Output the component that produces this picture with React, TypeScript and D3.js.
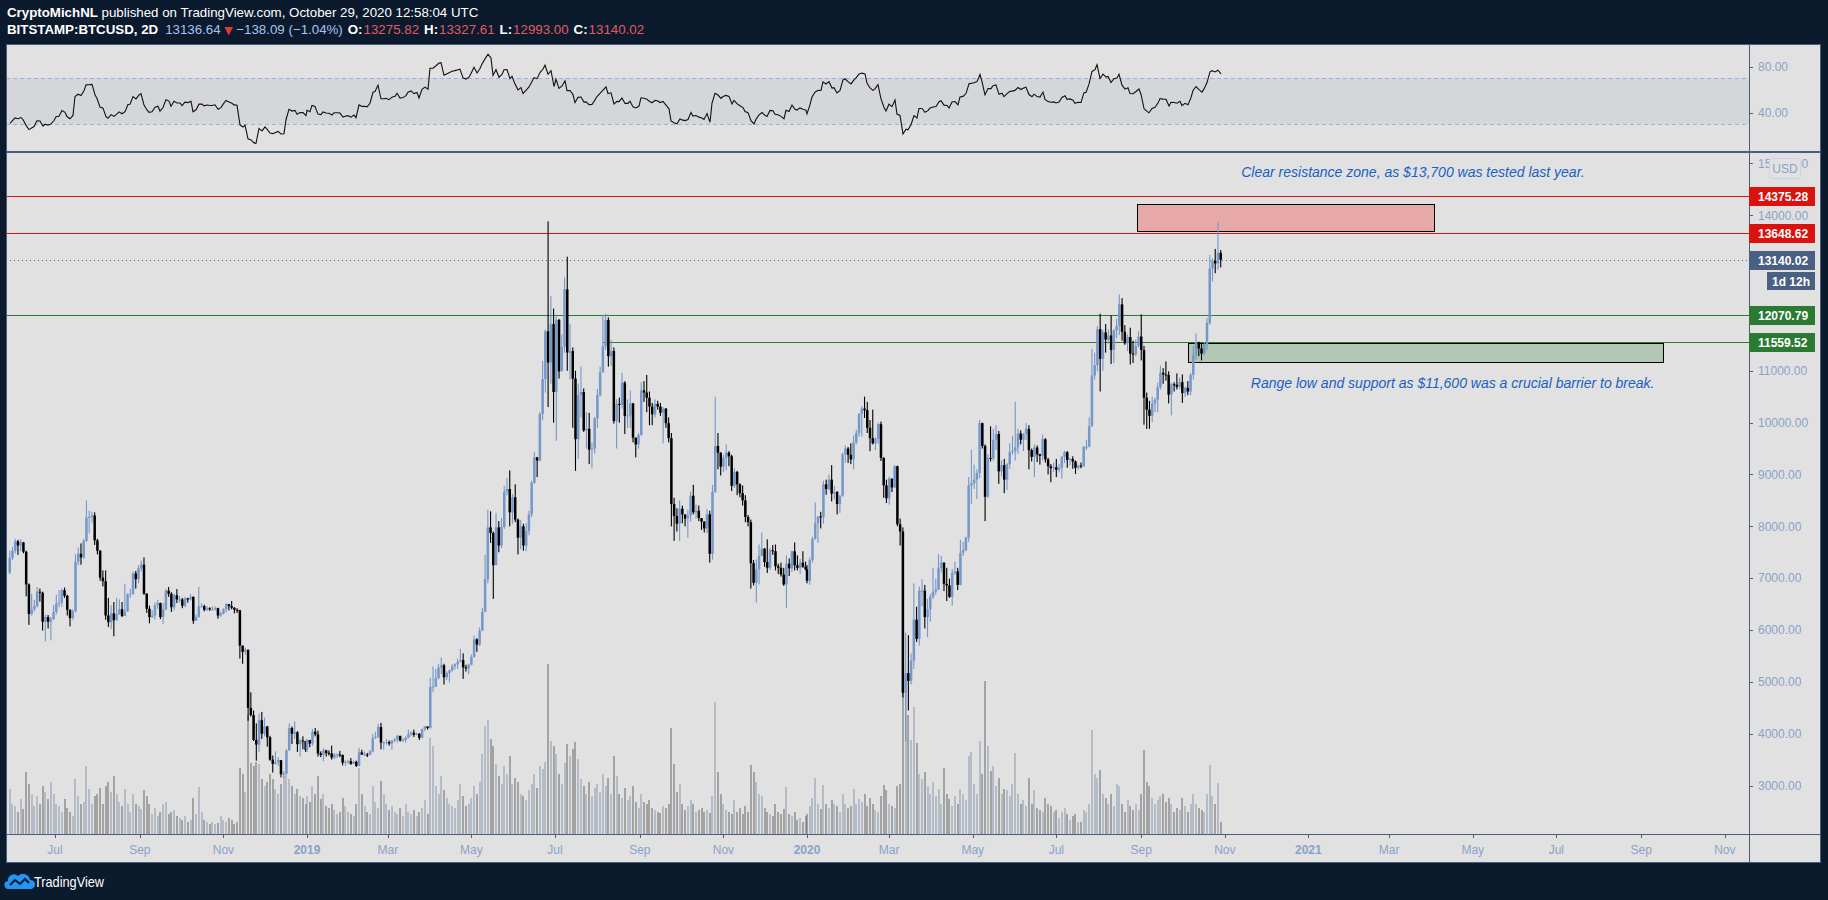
import * as React from 'react';
import {useEffect, useRef} from 'react';
import * as d3 from 'd3';

const width = 1828;
const height = 900;

// 2D bars before the visible range (close only), used to warm up the RSI
const warmupCloses = [9240, 9740, 9700, 9380, 9320, 8460, 8690, 8480, 8060, 8230, 8510, 7530, 7470, 7110];

// [high, low, close] per 2D bar; a bar opens at the previous close.
// Bars start on May 29 2018 and restart on Jan 1 of each year.
const bars2018 = [
  [7530, 7080, 7390], [7600, 7350, 7530], [7760, 7480, 7710], [7740, 7450, 7630], [7750, 7520, 7690], [7700, 7480, 7510], [7530, 6650, 6880], [6900, 6100, 6310], [6700, 6280, 6400], [6580, 6360, 6460],
  [6830, 6440, 6740], [6800, 6550, 6720], [6740, 5990, 6160], [6300, 5780, 6250], [6290, 6030, 6160], [6250, 5800, 6210], [6480, 6200, 6350], [6680, 6300, 6510], [6770, 6440, 6530], [6800, 6450, 6770],
  [6820, 6620, 6660], [6680, 6280, 6390], [6400, 6070, 6230], [6400, 6200, 6360], [7460, 6340, 7320], [7590, 7250, 7470], [7670, 7260, 7400], [7760, 7370, 7720], [8500, 7700, 8170], [8300, 7860, 8180],
  [8280, 8070, 8210], [8270, 7640, 7730], [7760, 7460, 7530], [7540, 6950, 7010], [7150, 6840, 6940], [7150, 6200, 6280], [6620, 6060, 6150], [6480, 6020, 6320], [6540, 5880, 6190], [6620, 6180, 6310],
  [6590, 6290, 6400], [6540, 6250, 6270], [6890, 6270, 6360], [6710, 6350, 6690], [6800, 6620, 6700], [7130, 6680, 7090], [7140, 6800, 6980], [7250, 6900, 7190], [7340, 7130, 7260], [7400, 6680, 6700],
  [6710, 6330, 6410], [6470, 6130, 6250], [6380, 6230, 6280], [6530, 6200, 6480], [6580, 6410, 6520], [6530, 6210, 6250], [6520, 6120, 6400], [6790, 6380, 6760], [6830, 6640, 6700], [6730, 6350, 6440],
  [6700, 6380, 6670], [6790, 6520, 6590], [6660, 6530, 6590], [6620, 6420, 6470], [6640, 6440, 6610], [6620, 6530, 6590], [6690, 6570, 6640], [6650, 6120, 6180], [6300, 6180, 6250], [6830, 6240, 6460],
  [6520, 6430, 6460], [6490, 6360, 6390], [6460, 6370, 6420], [6440, 6370, 6400], [6460, 6380, 6400], [6450, 6380, 6420], [6430, 6220, 6280], [6350, 6250, 6320], [6420, 6300, 6400], [6520, 6340, 6500],
  [6500, 6380, 6460], [6560, 6400, 6430], [6440, 6320, 6390], [6420, 6330, 6380], [6390, 5450, 5700], [5680, 5350, 5580], [5660, 5520, 5620], [5620, 4250, 4500], [4800, 4330, 4360], [4450, 3860, 3880],
  [4200, 3480, 3790], [4390, 3650, 4260], [4420, 3900, 4000], [4310, 3950, 4140], [4150, 3750, 3930], [3960, 3480, 3500], [3580, 3250, 3420], [3660, 3400, 3450], [3550, 3380, 3490], [3490, 3160, 3220],
  [3280, 3150, 3230], [3700, 3220, 3680], [4200, 3670, 4110], [4140, 3800, 4000], [4240, 3900, 4030], [4050, 3650, 3800], [3900, 3560, 3870], [3950, 3700, 3860], [3830, 3650, 3690]
];

const bars2019 = [
  [3900, 3650, 3880], [3880, 3740, 3810], [4090, 3770, 4040], [4110, 3950, 3990], [4060, 3560, 3620], [3660, 3550, 3590], [3720, 3470, 3680], [3690, 3560, 3630], [3680, 3580, 3620], [3770, 3500, 3540],
  [3630, 3510, 3600], [3620, 3530, 3600], [3670, 3550, 3590], [3600, 3390, 3440], [3490, 3380, 3460], [3500, 3420, 3470], [3530, 3400, 3420], [3480, 3420, 3460], [3480, 3360, 3380], [3730, 3370, 3640],
  [3690, 3590, 3600], [3660, 3570, 3600], [3630, 3550, 3590], [3690, 3590, 3660], [4000, 3640, 3920], [4040, 3900, 3940], [4190, 3920, 4130], [4210, 3700, 3830], [3850, 3690, 3830], [3900, 3790, 3840],
  [3870, 3770, 3810], [3880, 3690, 3870], [3920, 3840, 3890], [3980, 3830, 3960], [3960, 3850, 3870], [3920, 3840, 3880], [3950, 3830, 3920], [4080, 3910, 3990], [4050, 3950, 4020], [4080, 3940, 3980],
  [4020, 3970, 4000], [4010, 3880, 3920], [4100, 3910, 4090], [4150, 4050, 4140], [4140, 4080, 4110], [5080, 4100, 4900], [5300, 4800, 4910], [5250, 4900, 5070], [5350, 5050, 5280], [5470, 5150, 5320],
  [5350, 4950, 5090], [5200, 5040, 5170], [5240, 4990, 5220], [5340, 5200, 5300], [5360, 5240, 5340], [5450, 5250, 5390], [5640, 5380, 5420], [5550, 5060, 5280], [5330, 5200, 5260], [5350, 5150, 5330],
  [5530, 5320, 5480], [5890, 5470, 5820], [5840, 5580, 5720], [6050, 5690, 5990], [6430, 5980, 6350], [7450, 6350, 6980], [8320, 6900, 7980], [8290, 7680, 7870], [7900, 6600, 7250], [8260, 7250, 7980],
  [8100, 7500, 7630], [8160, 7580, 7990], [8780, 7950, 8670], [8930, 8600, 8720], [9080, 8000, 8270], [8620, 8050, 8560], [8810, 8080, 8130], [8150, 7460, 7780], [8120, 7560, 8000], [8050, 7530, 7630],
  [8060, 7520, 7910], [8300, 7830, 8230], [8880, 8180, 8840], [9430, 8820, 9330], [9340, 8950, 9270], [10200, 9260, 10170], [11190, 10050, 10840], [11800, 10580, 11760], [13880, 10300, 11160], [12440, 10750, 11900],
  [12200, 10000, 10590], [12050, 9650, 11980], [12000, 10850, 10990], [11700, 10990, 11460], [12800, 11350, 12570], [13200, 11000, 11350], [11900, 10830, 11380], [11450, 9900, 10850], [11000, 9070, 9680], [10750, 9300, 10530],
  [11080, 10100, 10590], [10660, 9820, 9850], [10200, 9500, 9880], [10190, 9200, 9480], [9620, 9120, 9500], [10110, 9400, 10080], [10650, 9900, 10530], [11080, 10500, 10970], [12080, 11000, 11470], [12100, 11400, 11980],
  [12030, 11080, 11280], [11600, 11100, 11380], [11450, 9980, 10030], [10450, 9500, 10360], [10480, 10000, 10340], [10960, 10270, 10770], [10800, 9780, 10130], [10450, 9900, 10140], [10620, 9900, 10370], [10380, 9620, 9710],
  [9710, 9330, 9580], [9800, 9500, 9760], [10780, 9750, 10620], [10800, 10400, 10580], [10920, 10200, 10480], [10600, 9950, 10310], [10380, 9950, 10160], [10450, 10100, 10360], [10420, 10250, 10310], [10380, 10130, 10190],
  [10300, 9600, 10270], [10280, 9900, 9990], [10100, 9620, 9700], [9800, 8000, 8430], [8550, 7720, 8200], [8350, 7900, 8050], [8500, 7720, 8340], [8400, 8060, 8230], [8230, 8000, 8150], [8320, 7780, 8210],
  [8670, 8090, 8590], [8800, 8230, 8270], [8420, 8150, 8300], [8400, 8100, 8160], [8160, 7930, 8090], [8100, 7880, 7960], [8330, 7870, 8230], [8300, 7300, 7470], [8800, 7360, 8660], [10500, 8650, 9550],
  [9800, 9100, 9420], [9430, 8980, 9150], [9380, 9050, 9320], [9580, 9080, 9420], [9450, 9160, 9350], [9380, 8680, 8780], [9120, 8740, 9050], [9070, 8600, 8810], [8830, 8560, 8640], [8790, 8400, 8500],
  [8600, 8080, 8180], [8220, 8000, 8080], [8130, 6800, 7290], [7350, 6860, 6910], [7360, 6530, 7170], [7650, 6880, 7430], [7880, 7420, 7570], [7580, 7220, 7310], [7750, 7100, 7200], [7580, 7160, 7540],
  [7640, 7450, 7520], [7650, 7150, 7230], [7280, 7080, 7200], [7300, 7030, 7070], [7200, 6850, 6880], [7440, 6430, 7280], [7380, 7040, 7190], [7530, 7120, 7520], [7690, 7150, 7250], [7440, 7150, 7200],
  [7370, 7080, 7300], [7520, 7200, 7220], [7320, 7150, 7170]
];

const bars2020 = [
  [7250, 6900, 6950], [7400, 6870, 7350], [7800, 7300, 7760], [8460, 7740, 8060], [8200, 7680, 8190], [8280, 7960, 8180], [8880, 8050, 8810], [8900, 8610, 8720], [9000, 8700, 8900], [9180, 8480, 8630],
  [8780, 8520, 8660], [8680, 8230, 8430], [8600, 8260, 8590], [9420, 8570, 9390], [9560, 9230, 9500], [9530, 9220, 9380], [9600, 9200, 9290], [9750, 9100, 9620], [9860, 9580, 9800], [10180, 9730, 10170],
  [10320, 9730, 10270], [10500, 10090, 10240], [10400, 9800, 9900], [10050, 9450, 9700], [10250, 9580, 9600], [9720, 9470, 9690], [10000, 9590, 9970], [10020, 9260, 9320], [9330, 8550, 8790], [8900, 8450, 8540],
  [8960, 8420, 8920], [8920, 8660, 8750], [9180, 8740, 9160], [9170, 8000, 8040], [8150, 7630, 7900], [7980, 4700, 4790], [5950, 3850, 5170], [5900, 4450, 5020], [5550, 4950, 5410], [6900, 5250, 6200],
  [6450, 5770, 5830], [6840, 5700, 6760], [6980, 6460, 6760], [6870, 6030, 6250], [6600, 5860, 6400], [6700, 6160, 6640], [7200, 6600, 6740], [6990, 6680, 6780], [7460, 6770, 7200], [7430, 7110, 7300],
  [7300, 6750, 6890], [7200, 6560, 6860], [6990, 6620, 6640], [7180, 6470, 7100], [7320, 7060, 7130], [7200, 6770, 6870], [7740, 6860, 7490], [7700, 7430, 7540], [7800, 7520, 7780], [8950, 7700, 8790],
  [9480, 8430, 8830], [9190, 8720, 8900], [9100, 8530, 9030], [10050, 8930, 9990], [10000, 9500, 9550], [9580, 8100, 8570], [9390, 8550, 9320], [9930, 9250, 9310], [9880, 9260, 9670], [9950, 9470, 9780],
  [9840, 8820, 9060], [9270, 8960, 9180], [9300, 8640, 8900], [9220, 8700, 9200], [9600, 9110, 9430], [9740, 9380, 9450], [10400, 9270, 9520], [9880, 9400, 9790], [9850, 9580, 9670], [9800, 9450, 9780],
  [9990, 9660, 9880], [9950, 9100, 9470], [9500, 9250, 9340], [9580, 8950, 9520], [9560, 9240, 9390], [9400, 9190, 9360], [9770, 9270, 9680], [9700, 9230, 9290], [9320, 9000, 9160], [9200, 8850, 9120],
  [9230, 9050, 9140], [9300, 8950, 9090], [9200, 9040, 9130], [9360, 8920, 9340], [9460, 9220, 9430], [9450, 9130, 9280], [9320, 9180, 9300], [9350, 9110, 9250], [9270, 9010, 9130], [9190, 9090, 9170],
  [9230, 9120, 9160], [9550, 9150, 9530], [9670, 9470, 9540], [10100, 9520, 9930], [11420, 9920, 10910], [11350, 10830, 11110], [11860, 10990, 11800], [12100, 10600, 11230], [11790, 11000, 11740], [11900, 11350, 11600],
  [11800, 11520, 11680], [12070, 11130, 11400], [11800, 11150, 11780], [12000, 11630, 11860], [12470, 11690, 12280], [12400, 11580, 11750], [11880, 11500, 11530], [11700, 11380, 11650], [11830, 11120, 11330], [11580, 11150, 11320],
  [11600, 11280, 11480], [11760, 11450, 11660], [12090, 11200, 11400], [11480, 9960, 10480], [10580, 9880, 10250], [10420, 9880, 10130], [10500, 10010, 10370], [10480, 10200, 10440], [10770, 10200, 10680], [11100, 10640, 10960],
  [11050, 10750, 10930], [11180, 10810, 10920], [10990, 10370, 10540], [10770, 10140, 10740], [10780, 10600, 10730], [10950, 10640, 10690], [10870, 10650, 10780], [10930, 10380, 10570], [10690, 10500, 10670], [10800, 10530, 10600],
  [10960, 10530, 10920], [11480, 10830, 11300], [11720, 11210, 11550], [11560, 11280, 11430], [11540, 11200, 11330], [11540, 11300, 11510], [12020, 11400, 11920], [13230, 11890, 12970], [13170, 12720, 13120], [13350, 12880, 13070],
  [13860, 12950, 13275.82], [13327.61, 12993, 13140.02]
];

// volume per bar (thousand BTC)
const volumes = [
  45, 30, 28, 22, 35, 25, 62, 50, 40, 28, 38, 30, 48, 42,
  35, 52, 40, 30, 28, 22, 35, 26, 22, 18, 55, 38, 30, 32,
  68, 45, 30, 38, 40, 46, 30, 48, 52, 42, 58, 40, 32, 28,
  45, 30, 22, 40, 30, 28, 25, 44, 38, 30, 20, 26, 18, 22,
  30, 32, 20, 22, 24, 18, 16, 14, 18, 12, 14, 36, 20, 47,
  22, 14, 12, 10, 12, 10, 11, 18, 14, 12, 16, 14, 10, 12,
  66, 60, 42, 119, 71, 68, 72, 70, 55, 48, 52, 60, 55, 45,
  40, 50, 58, 62, 55, 48, 40, 45, 38, 36, 30,
  38, 32, 48, 40, 58, 35, 40, 28, 26, 30, 24, 20, 22, 36, 28,
  22, 20, 18, 30, 66, 40, 28, 22, 20, 48, 32, 26, 53, 40, 30,
  24, 28, 22, 20, 26, 18, 30, 22, 20, 24, 18, 22, 26, 34, 20,
  96, 88, 48, 40, 58, 44, 36, 30, 28, 26, 34, 50, 38, 28, 30,
  36, 48, 40, 52, 80, 108, 114, 95, 88, 70, 58, 50, 68, 60, 78, 50,
  56, 52, 40, 38, 34, 44, 50, 60, 46, 68, 65, 72, 170,
  93, 88, 80, 60, 50, 71, 90, 78, 85, 92, 75, 55, 48, 40, 52, 38, 46,
  50, 42, 60, 48, 56, 40, 78, 58, 40, 36, 46, 34, 38, 48, 32, 26,
  40, 32, 30, 34, 26, 24, 22, 21, 28, 26, 30, 106, 70, 42, 50,
  30, 24, 28, 34, 30, 22, 24, 26, 22, 24, 21, 38, 132, 62, 40,
  30, 24, 22, 20, 34, 22, 26, 20, 28, 22, 69, 62, 52, 40, 38,
  26, 22, 20, 18, 30, 22, 20, 25, 47, 20, 18, 22, 14, 16, 12, 18,
  20, 28, 36, 56, 30, 25, 49, 30, 26, 34, 30, 28, 22, 40, 30, 26,
  28, 45, 30, 35, 32, 40, 28, 36, 30, 24, 22, 38, 49, 44,
  30, 28, 26, 48, 50, 175, 141, 119, 94, 127, 91, 60, 55, 62, 48, 40,
  52, 38, 45, 30, 66, 40, 35, 28, 38, 30, 45, 40, 34, 78, 82,
  50, 40, 93, 60, 153, 88, 63, 68, 48, 56, 40, 45, 44, 38, 50,
  81, 40, 30, 34, 28, 56, 30, 44, 26, 24, 22, 36, 30, 28, 22,
  24, 16, 22, 26, 20, 14, 18, 20, 12, 12, 24, 22, 30, 104, 60, 56,
  64, 40, 36, 30, 40, 28, 50, 48, 30, 22, 34, 28, 24, 30, 24,
  40, 84, 52, 48, 36, 30, 34, 38, 40, 32, 36, 30, 22, 26, 24,
  36, 28, 22, 30, 40, 30, 26, 24, 22, 40, 69, 38, 30, 51, 12
];

// quote shown in the header: last trade, change, change %
const headerQuote = [13136.64, -138.09, -1.04];

const resistanceLevels = [14375.28, 13648.62];
const supportLevels = [12070.79, 11559.52];
const lastPrice = 13140.02;
const resistanceZone = {from: '2020-08-29', to: '2021-04-03', low: 13700, high: 14225};
const supportZone = {from: '2020-10-05', to: '2021-09-17', low: 11170, high: 11540};
const supportLineFrom = '2019-08-05';
const priceTicks = [3000, 4000, 5000, 6000, 7000, 8000, 9000, 10000, 11000, 14000, 15000];
const rsiTicks = [80, 40];
const rsiBands = [70, 30];

const notes = [
  {date: '2020-11-13', price: 14830, text: 'Clear resistance zone, as $13,700 was tested last year.'},
  {date: '2020-11-20', price: 10750, text: 'Range low and support as $11,600 was a crucial barrier to break.'}
];

const font = '"Liberation Sans", Arial, sans-serif';
const narrow = '"Liberation Sans Narrow", "Liberation Sans", Arial, sans-serif';
const upColor = '#7597c9';
const downColor = '#000000';
const axisText = '#8aa2c8';
const frame = '#4b5d7d';
const red = '#d8130f';
const green = '#2b7a33';

const rsi = (closes: number[], n: number) => {
  const out: (number | null)[] = closes.map(() => null);
  let g = 0, l = 0;
  for (let i = 1; i <= n; i++) {
    const d = closes[i] - closes[i - 1];
    if (d > 0) g += d; else l -= d;
  }
  g /= n; l /= n;
  out[n] = 100 - 100 / (1 + g / l);
  for (let i = n + 1; i < closes.length; i++) {
    const d = closes[i] - closes[i - 1];
    g = (g * (n - 1) + Math.max(d, 0)) / n;
    l = (l * (n - 1) + Math.max(-d, 0)) / n;
    out[i] = l === 0 ? 100 : 100 - 100 / (1 + g / l);
  }
  return out;
};

const utc = (s: string) => new Date(s + 'T00:00:00Z');

export default function App() {
  const ref = useRef<SVGSVGElement>(null);

  useEffect(() => {
    const left = 6, right = 1821, top = 44, bottom = 863;
    const axisX = 1749, rsiBottom = 152, timeY = 834;

    const dates: Date[] = [];
    ([[2018, 148, bars2018.length], [2019, 0, bars2019.length], [2020, 0, bars2020.length]] as number[][])
      .forEach(([yr, start, n]) => {
        for (let i = 0; i < n; i++) dates.push(new Date(Date.UTC(yr, 0, 1 + start + 2 * i)));
      });
    let prev = warmupCloses[warmupCloses.length - 1];
    const candles = [...bars2018, ...bars2019, ...bars2020].map(([h, l, c], i) => {
      const o = prev;
      prev = c;
      return {date: dates[i], o, h: Math.max(h, o, c), l: Math.min(l, o, c), c, v: volumes[i] ?? 0};
    });
    const rsiAll = rsi([...warmupCloses, ...candles.map(d => d.c)], 14);
    const rsiVals = candles.map((d, i) => ({date: d.date, v: rsiAll[i + warmupCloses.length]}));

    const x = d3.scaleUtc()
      .domain([new Date(Date.UTC(2019, 0, 1)), new Date(Date.UTC(2020, 0, 1))])
      .range([307, 807]);
    const y = d3.scaleLinear().domain([3000, 14000]).range([785.6, 215.2]);
    const yRsi = d3.scaleLinear().domain([80, 40]).range([66.7, 112.7]);
    const yVol = d3.scaleLinear().domain([0, d3.max(volumes)!]).range([timeY, timeY - 175]);

    const svg = d3.select(ref.current);
    svg.selectAll('*').remove();
    svg.attr('viewBox', [0, 0, width, height].join(' ')).style('font-family', font);

    const defs = svg.append('defs');
    defs.append('clipPath').attr('id', 'clip-main').append('rect')
      .attr('x', left).attr('y', rsiBottom + 1).attr('width', axisX - left).attr('height', timeY - rsiBottom - 1);
    defs.append('clipPath').attr('id', 'clip-rsi').append('rect')
      .attr('x', left).attr('y', top).attr('width', axisX - left).attr('height', rsiBottom - top);

    svg.append('rect').attr('width', width).attr('height', height).attr('fill', '#0c1a2e');
    svg.append('rect').attr('x', left).attr('y', top).attr('width', right - left).attr('height', bottom - top)
      .attr('fill', '#e1e1e1');

    // RSI pane
    const rp = svg.append('g').attr('clip-path', 'url(#clip-rsi)');
    rp.append('rect').attr('x', left).attr('width', axisX - left)
      .attr('y', yRsi(rsiBands[0])).attr('height', yRsi(rsiBands[1]) - yRsi(rsiBands[0]))
      .attr('fill', '#d4d6da');
    rp.selectAll('line.band').data(rsiBands).join('line')
      .attr('x1', left).attr('x2', axisX)
      .attr('y1', d => Math.round(yRsi(d)) + 0.5).attr('y2', d => Math.round(yRsi(d)) + 0.5)
      .attr('stroke', '#94b4dc').attr('stroke-dasharray', '4 3');
    const rsiLine = d3.line<{date: Date, v: number | null}>()
      .defined(d => d.v !== null)
      .x(d => Math.round(x(d.date)))
      .y(d => yRsi(d.v as number));
    rp.append('path').attr('d', rsiLine(rsiVals)).attr('fill', 'none')
      .attr('stroke', '#111').attr('stroke-width', 1.1);

    // main pane
    const mp = svg.append('g').attr('clip-path', 'url(#clip-main)');
    mp.selectAll('rect.vol').data(candles).join('rect')
      .attr('x', d => Math.round(x(d.date)) - 0.5).attr('width', 1)
      .attr('y', d => yVol(d.v)).attr('height', d => timeY - yVol(d.v))
      .attr('fill', d => d.c >= d.o ? '#8797b0' : '#666666');

    const hline = (price: number, x1: number, color: string, dash?: string) =>
      mp.append('line').attr('x1', x1).attr('x2', axisX)
        .attr('y1', Math.round(y(price)) + 0.5).attr('y2', Math.round(y(price)) + 0.5)
        .attr('stroke', color).attr('stroke-dasharray', dash ?? null);
    hline(lastPrice, left, '#666', '1 3');
    resistanceLevels.forEach(p => hline(p, left, red));
    hline(supportLevels[0], left, green);
    hline(supportLevels[1], x(utc(supportLineFrom)), green);

    [[resistanceZone, '#e6a9a8'], [supportZone, '#b4c6b4']].forEach(([z, fill]: any) => {
      mp.append('rect')
        .attr('x', Math.round(x(utc(z.from))) + 0.5).attr('y', Math.round(y(z.high)) + 0.5)
        .attr('width', Math.round(x(utc(z.to)) - x(utc(z.from))))
        .attr('height', Math.round(y(z.low) - y(z.high)))
        .attr('fill', fill).attr('stroke', '#000').attr('stroke-width', 1);
    });

    const cg = mp.append('g');
    cg.selectAll('rect.wick').data(candles).join('rect')
      .attr('x', d => x(d.date) - 0.55).attr('width', 1.1)
      .attr('y', d => y(d.h)).attr('height', d => Math.max(1, y(d.l) - y(d.h)))
      .attr('fill', d => d.c >= d.o ? upColor : downColor);
    cg.selectAll('rect.body').data(candles).join('rect')
      .attr('x', d => x(d.date) - 1.25).attr('width', 2.5)
      .attr('y', d => y(Math.max(d.o, d.c)))
      .attr('height', d => Math.max(1, Math.abs(y(d.o) - y(d.c))))
      .attr('fill', d => d.c >= d.o ? upColor : downColor);

    mp.selectAll('text.note').data(notes).join('text')
      .attr('x', d => x(utc(d.date))).attr('y', d => y(d.price) + 4.5)
      .attr('font-size', 14).attr('font-style', 'italic').attr('fill', '#1a5fc2')
      .text(d => d.text);

    // frame lines
    const fl = svg.append('g').attr('stroke', frame).attr('shape-rendering', 'crispEdges');
    fl.append('rect').attr('x', left + 0.5).attr('y', top + 0.5).attr('width', right - left - 1)
      .attr('height', bottom - top - 1).attr('fill', 'none');
    fl.append('line').attr('x1', left).attr('x2', right).attr('y1', rsiBottom).attr('y2', rsiBottom).attr('stroke-width', 2);
    fl.append('line').attr('x1', axisX + 0.5).attr('x2', axisX + 0.5).attr('y1', top).attr('y2', bottom);
    fl.append('line').attr('x1', left).attr('x2', right).attr('y1', timeY + 0.5).attr('y2', timeY + 0.5);

    // price axis
    const pa = svg.append('g');
    const tickRows = [
      ...priceTicks.map(p => ({yy: y(p), label: d3.format('.2f')(p)})),
      ...rsiTicks.map(v => ({yy: yRsi(v), label: d3.format('.2f')(v)}))
    ];
    pa.selectAll('line').data(tickRows).join('line')
      .attr('x1', axisX).attr('x2', axisX + 4)
      .attr('y1', d => Math.round(d.yy) + 0.5).attr('y2', d => Math.round(d.yy) + 0.5)
      .attr('stroke', frame);
    pa.selectAll('text').data(tickRows).join('text')
      .attr('x', axisX + 9).attr('y', d => d.yy + 4.3)
      .attr('font-size', 12).attr('fill', axisText).text(d => d.label);

    svg.append('rect').attr('x', 1769.5).attr('y', 158.5).attr('width', 31).attr('height', 20).attr('rx', 2)
      .attr('fill', '#e1e1e1').attr('stroke', '#c6d3e6');
    svg.append('text').attr('x', 1785).attr('y', 172.5).attr('text-anchor', 'middle')
      .attr('font-size', 12).attr('fill', axisText).text('USD');

    const tags = [
      ...resistanceLevels.map(p => ({p, fill: red})),
      {p: lastPrice, fill: '#4a6083'},
      ...supportLevels.map(p => ({p, fill: green}))
    ];
    const tg = svg.append('g');
    tg.selectAll('rect').data(tags).join('rect')
      .attr('x', axisX).attr('y', d => Math.round(y(d.p)) - 9).attr('width', 66).attr('height', 19)
      .attr('fill', d => d.fill);
    tg.selectAll('text').data(tags).join('text')
      .attr('x', axisX + 9).attr('y', d => Math.round(y(d.p)) + 5)
      .attr('font-size', 12).attr('font-weight', 'bold').attr('fill', '#fff')
      .text(d => d3.format('.2f')(d.p));
    const yLast = Math.round(y(lastPrice));
    svg.append('rect').attr('x', 1767).attr('y', yLast + 12).attr('width', 48).attr('height', 18).attr('fill', '#4a6083');
    svg.append('text').attr('x', 1791).attr('y', yLast + 25.5).attr('text-anchor', 'middle')
      .attr('font-size', 12).attr('font-weight', 'bold').attr('fill', '#fff').text('1d 12h');

    // time axis
    const months = d3.utcMonth.every(2)!.range(new Date(Date.UTC(2018, 6, 1)), new Date(Date.UTC(2021, 11, 2)));
    const ta = svg.append('g');
    ta.selectAll('line').data(months).join('line')
      .attr('x1', d => Math.round(x(d)) + 0.5).attr('x2', d => Math.round(x(d)) + 0.5)
      .attr('y1', timeY).attr('y2', timeY + 4).attr('stroke', frame);
    ta.selectAll('text').data(months).join('text')
      .attr('x', d => x(d)).attr('y', 854).attr('text-anchor', 'middle')
      .attr('font-size', 12).attr('fill', axisText)
      .attr('font-weight', d => d.getUTCMonth() === 0 ? 'bold' : 'normal')
      .text(d => d.getUTCMonth() === 0 ? d3.utcFormat('%Y')(d) : d3.utcFormat('%b')(d));

    // header
    const fmt = d3.format('.2f');
    const minus = (v: number) => (v < 0 ? '\u2212' : '') + fmt(Math.abs(v));
    const h1 = svg.append('text').attr('x', 7).attr('y', 17).attr('font-size', 13.3)
      .attr('font-family', narrow).attr('fill', '#fff');
    h1.append('tspan').attr('font-weight', 'bold').text('CryptoMichNL');
    h1.append('tspan').text(' published on TradingView.com, October 29, 2020 12:58:04 UTC');

    const last = candles[candles.length - 1];
    const h2 = svg.append('text').attr('x', 7).attr('y', 34).attr('font-size', 13.3)
      .attr('font-family', narrow).attr('fill', '#fff');
    h2.append('tspan').attr('font-weight', 'bold').text('BITSTAMP:BTCUSD, 2D');
    h2.append('tspan').attr('dx', 7).attr('fill', '#a7c3ee').text(fmt(headerQuote[0]));
    h2.append('tspan').attr('fill', '#e53935').attr('font-family', '"DejaVu Sans"').attr('font-size', 11).text(' \u25BC');
    h2.append('tspan').attr('fill', '#a7c3ee')
      .text(` ${minus(headerQuote[1])} (${minus(headerQuote[2])}%)`);
    [['O:', last.o], ['H:', last.h], ['L:', last.l], ['C:', last.c]].forEach(([k, v]) => {
      h2.append('tspan').attr('font-weight', 'bold').attr('dx', 5).text(k as string);
      h2.append('tspan').attr('fill', '#e35b60').attr('dx', 1).text(fmt(v as number));
    });

    // footer logo
    const logo = svg.append('g').attr('transform', 'translate(6,873)');
    logo.append('path')
      .attr('d', 'M3,16 a4,4 0 0 1 -1,-8 a6,6 0 0 1 10,-5 a7,7 0 0 1 12,4 a4.5,4.5 0 0 1 1,9 z')
      .attr('fill', '#2196f3');
    logo.append('polyline').attr('points', '4,12 9,7 14,11 19,6 23,10')
      .attr('fill', 'none').attr('stroke', '#0c1a2e').attr('stroke-width', 2);
    svg.append('text').attr('x', 34).attr('y', 887).attr('font-size', 15).attr('fill', '#fff')
      .attr('textLength', 70).attr('lengthAdjust', 'spacingAndGlyphs').text('TradingView');
  }, []);

  return <svg ref={ref} width={width} height={height} style={{position: 'fixed', left: 0, top: 0, display: 'block'}} />;
}
